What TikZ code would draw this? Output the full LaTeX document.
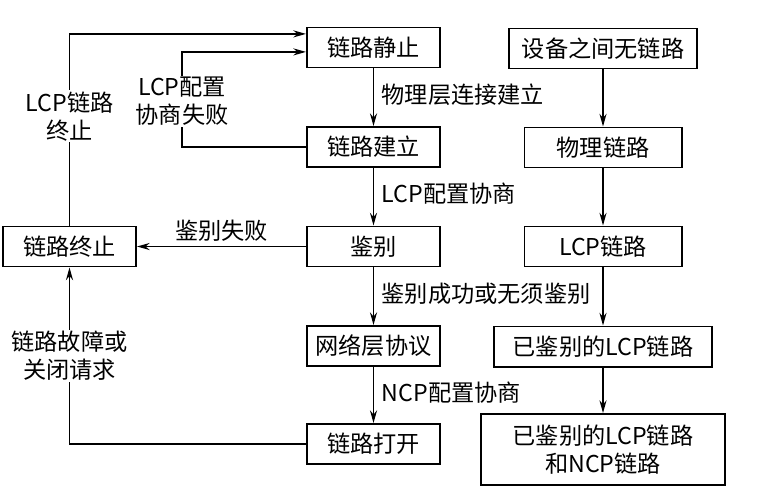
\documentclass[tikz,border=0pt]{standalone}
\usepackage{fontspec}
\setmainfont{Noto Sans CJK SC}
\usetikzlibrary{arrows.meta}

\begin{document}
\begin{tikzpicture}[x=0.025cm,y=-0.025cm]
	\tikzstyle{every node}=[font=\fontsize{16.5}{20}\selectfont]
	\tikzstyle{state}=[rectangle,draw,line width=1.4pt,inner sep=0pt,minimum height=1cm]
	\tikzstyle{link}=[line width=1.1pt,-{Stealth[length=9pt,width=5pt]}]
	\tikzstyle{lbl}=[fill=white,align=center,inner sep=1pt]
	\tikzstyle{side}=[right,xshift=2pt,yshift=2pt]
	\useasboundingbox (0,0) rectangle (766,501);
	% PPP link phases
	\node[state,minimum width=3.325cm] (dead) at (373.5,47.5) {链路静止};
	\node[state,minimum width=3.325cm] (estab) at (373.5,147) {链路建立};
	\node[state,minimum width=3.325cm] (auth) at (373.5,246.5) {鉴别};
	\node[state,minimum width=3.325cm] (netw) at (373.5,346) {网络层协议};
	\node[state,minimum width=3.325cm] (open) at (373.5,444) {链路打开};
	\node[state,minimum width=3.325cm] (term) at (69.5,246.5) {链路终止};
	% link states
	\node[state,minimum width=4.7cm] (nolink) at (603,48.5) {设备之间无链路};
	\node[state,minimum width=3.925cm] (phys) at (603,147.5) {物理链路};
	\node[state,minimum width=3.925cm] (lcp) at (603,246.5) {LCP链路};
	\node[state,minimum width=5.425cm] (alcp) at (603,346.5) {已鉴别的LCP链路};
	\node[state,minimum width=6.075cm,minimum height=1.775cm,align=center] (ancp) at (603,449.5) {已鉴别的LCP链路\\和NCP链路};

	\draw[link] (dead) -- node[side]{物理层连接建立} (estab);
	\draw[link] (estab) -- node[side]{LCP配置协商} (auth);
	\draw[link] (auth) -- node[side]{鉴别成功或无须鉴别} (netw);
	\draw[link] (netw) -- node[side]{NCP配置协商} (open);
	\draw[link] (auth) -- node[above]{鉴别失败} (term);
	\draw[link] (estab.west) -- ++(-124,0) |- node[lbl,pos=0.24]{LCP配置\\协商失败} ([yshift=-0.11cm]dead.west);
	\draw[link] (term) |- node[lbl,pos=0.285]{LCP链路\\终止} ([yshift=0.34cm]dead.west);
	\draw[link] (open) -| node[lbl,pos=0.75]{链路故障或\\关闭请求} (term);

	\draw[link] (nolink) -- (phys);
	\draw[link] (phys) -- (lcp);
	\draw[link] (lcp) -- (alcp);
	\draw[link] (alcp) -- (ancp);
\end{tikzpicture}
\end{document}
